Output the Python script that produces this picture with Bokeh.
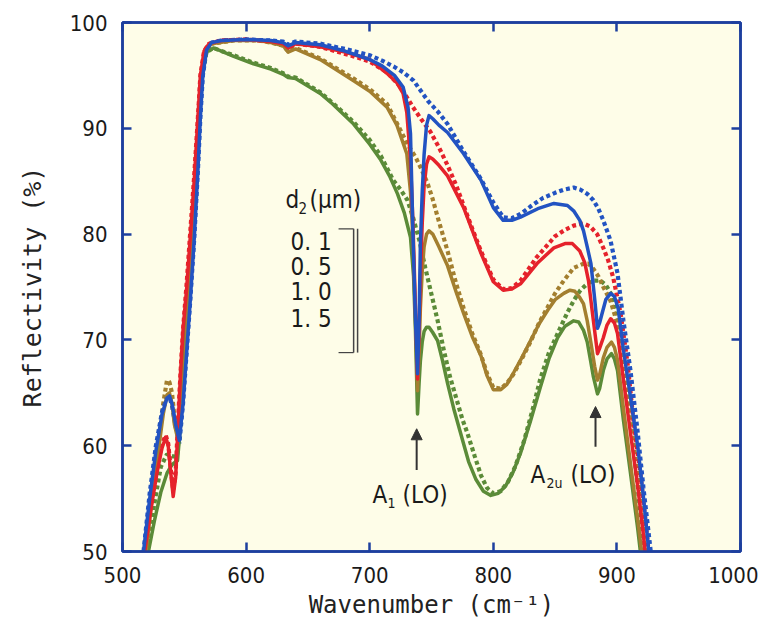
from bokeh.plotting import figure
from bokeh.models import Range1d, LinearAxis, FixedTicker, Label, Arrow, NormalHead
from bokeh.embed import file_html
from bokeh.resources import INLINE

# ---------------- data ----------------
x_ticks = [500, 600, 700, 800, 900, 1000]
y_ticks = [50, 60, 70, 80, 90, 100]

thickness_labels = ["0. 1", "0. 5", "1. 0", "1. 5"]

blue_x = [517, 522, 527, 532, 536, 538, 540, 543, 546, 549, 552, 555, 558, 561, 563, 565, 568, 572, 580, 600, 620, 630, 634, 640, 660, 680, 700, 710, 720, 727, 731, 733, 735, 737, 738.7, 740, 741, 742.5, 744, 746, 748, 751, 756, 763, 776, 790, 800, 808, 815, 822, 836, 849, 860, 865, 870, 873, 876, 879, 882, 884.3, 886, 888, 891, 895, 898, 901, 905, 911, 917, 921.5, 925, 928]
blue_y = [50, 55, 59.5, 63, 64.5, 64.7, 64, 62, 60.5, 64, 69, 74, 79.5, 86, 91, 95, 97.4, 98.1, 98.3, 98.4, 98.3, 98.1, 97.8, 98.1, 97.9, 97.3, 96.5, 95.9, 95, 93.9, 92, 89.5, 80, 72, 66.8, 72, 79, 84, 87.5, 90.3, 91.2, 90.9, 90.3, 89.6, 87.6, 85.1, 82.5, 81.3, 81.3, 81.6, 82.4, 82.9, 82.7, 82.2, 81.3, 80.3, 78.8, 77.2, 73.9, 71.1, 71.6, 72.5, 73.8, 74.4, 74.1, 73, 69.3, 64.6, 59.8, 55.1, 51, 47]

red_x = [518, 523, 528, 532, 535, 537, 539, 541, 543, 545, 547, 549, 552, 555, 558, 561, 563, 566, 570, 580, 600, 620, 630, 634, 640, 660, 680, 700, 714, 722, 727, 730, 733, 735, 737, 738.7, 740, 741, 742.5, 744, 746, 748, 751, 756, 763, 776, 790, 800, 808, 815, 822, 836, 849, 858, 864, 870, 874, 877, 881, 884.3, 886, 889, 892, 895, 898, 900.5, 905, 911, 917, 921.5, 925]
red_y = [50, 54, 57.5, 59.8, 60.8, 60, 57.5, 55.2, 57, 62, 67, 71, 75, 80, 85, 91, 95, 97.3, 98, 98.3, 98.4, 98.2, 98, 97.6, 98, 97.7, 97.2, 96.5, 95.2, 94.3, 93.3, 91.5, 87, 81, 73, 66.3, 71, 76, 81, 84.5, 86.6, 87.3, 87.1, 86.5, 85.5, 82.5, 78.2, 75.5, 74.7, 74.8, 75.3, 77.3, 78.7, 79.1, 79.1, 78.4, 77.3, 75.6, 71.8, 68.7, 69.2, 70.2, 71.4, 72.0, 71.6, 70.6, 66.5, 61.2, 56, 51.5, 47]

brown_x = [519, 524, 529, 533, 536, 538, 540, 542, 545, 548, 551, 554, 557, 560, 562, 564, 567, 572, 590, 610, 620, 630, 634, 640, 660, 687, 700, 714, 722, 730, 733, 735, 737, 738.7, 740, 741, 742.5, 744, 746, 748, 751, 756, 763, 770, 776, 783, 790, 795, 800, 806, 811, 816, 823, 830, 837, 844, 850, 857, 862, 866, 870, 873, 876, 879, 882, 884.3, 886, 889, 892, 895.6, 898, 900.5, 905, 911, 916.7, 920, 923]
brown_y = [50, 55, 59.5, 63, 64.8, 65, 64, 62, 60.5, 64, 69, 75, 81, 87, 91, 95, 97.3, 98, 98.3, 98.3, 98.1, 97.8, 97.2, 97.5, 96.5, 94.5, 93.5, 92, 90.3, 87.6, 84, 79.5, 72, 65.2, 69, 73, 76.5, 78.8, 80, 80.3, 80, 78.8, 77, 74.5, 72.5, 70.3, 68.5, 66.6, 65.3, 65.3, 65.8, 66.8, 68.3, 69.9, 71.5, 72.8, 73.8, 74.4, 74.7, 74.6, 74, 73.4, 71.8, 69.7, 67.5, 66.2, 66.7, 68.3, 69.3, 69.8, 69.3, 68.1, 63.8, 58.3, 53.2, 50, 47]

green_x = [521, 526, 531, 536, 540, 544.5, 547, 549.5, 553, 556, 559, 562, 565, 568, 573.6, 580, 590, 606, 620, 630, 634, 640, 650, 660, 670, 687, 700, 709, 716, 722.5, 728, 733, 735.5, 737, 738.7, 740, 741, 742.5, 744, 746, 748, 751, 755, 759, 763, 768, 773.5, 780, 786, 792, 798, 804, 810, 816, 822, 830, 838, 845, 852, 858, 865, 869, 873, 876, 878.6, 881, 884.3, 886, 889, 892, 895.6, 898, 900.5, 905.3, 911, 916.7, 919, 922]
green_y = [50, 53, 55.6, 57.4, 58.2, 58.6, 62, 68, 75, 80.5, 86, 91.5, 95.5, 97.2, 97.6, 97.3, 96.8, 96.1, 95.6, 95.1, 94.8, 94.7, 94, 93.3, 92.3, 90.4, 88.5, 87, 85.5, 83.8, 82, 79.7, 76, 71, 63, 66, 68, 69.8, 70.8, 71.2, 71.2, 70.7, 69.9, 68, 65.9, 63.5, 61.2, 58.5, 56.8, 55.7, 55.3, 55.5, 56.2, 57.5, 59.3, 62.3, 65.5, 68.2, 70.2, 71.3, 71.8, 71.7, 70.9, 69.8, 68.1, 66.5, 64.9, 65.4, 67.1, 68.2, 68.7, 68.2, 67.1, 62.4, 57.4, 52.3, 50, 47]

blue_dot_x = [517, 522, 527, 532, 536, 538, 540, 543, 546, 549, 552, 555, 558, 561, 563, 565, 568, 572, 580, 600, 620, 630, 634, 640, 660, 680, 700, 710, 720, 727, 735.5, 741, 747, 755, 763, 770, 776, 783, 790, 800, 808, 815, 822, 830, 840, 850, 857, 865, 870.5, 876, 881, 885, 889, 894.8, 900.5, 905.3, 911, 916.7, 921.5, 927, 930]
blue_dot_y = [50, 55.5, 60, 63.2, 64.6, 64.6, 63.8, 61.8, 60.2, 64, 69, 74, 79.5, 86, 91, 95, 97.4, 98.1, 98.3, 98.4, 98.3, 98.2, 97.9, 98.2, 98, 97.5, 96.9, 96.4, 95.8, 95.3, 94.5, 93.6, 92.6, 91.6, 90.4, 89, 87.8, 86.5, 85.2, 83, 81.6, 81.5, 81.9, 82.6, 83.4, 83.9, 84.2, 84.4, 84.2, 83.8, 83.2, 82.4, 81.3, 79.4, 76.3, 71.8, 67.1, 61.4, 56, 50.4, 47]

red_dot_x = [518, 523, 528, 532, 535, 537, 539, 541, 543, 545, 547, 549, 552, 555, 558, 561, 563, 566, 570, 580, 600, 620, 630, 634, 640, 660, 687, 700, 714, 725, 735, 742, 749, 756, 763, 770, 776, 783, 790, 800, 808, 815, 822, 835, 850, 858, 865, 873, 878.6, 884, 889, 893, 897, 903, 908.6, 913.4, 919, 924.8, 928]
red_dot_y = [50, 54.3, 58, 60.2, 61, 60.2, 57.8, 55.8, 57.5, 62.5, 67, 71, 75.5, 80.5, 85.5, 91, 95, 97.3, 98, 98.3, 98.4, 98.2, 98, 97.6, 98, 97.7, 96.8, 96.3, 95.3, 93.9, 92, 90.8, 89.7, 88.2, 86.5, 84.6, 82.7, 80.5, 78.4, 75.7, 74.8, 74.9, 75.6, 77.8, 79.8, 80.4, 80.8, 81, 80.7, 80, 78.7, 77.5, 75.9, 72.5, 67.8, 62.4, 57.4, 51, 47]

brown_dot_x = [519, 524, 529, 533, 536, 538, 540, 542, 545, 548, 551, 554, 557, 560, 562, 564, 567, 572, 590, 610, 620, 630, 634, 640, 660, 687, 700, 714, 725, 731, 737, 742, 746.8, 751, 755, 763, 770, 776, 783, 790, 795, 800, 806, 811, 816, 823, 830, 837, 844, 850, 857, 865, 873, 877, 881, 885, 889, 894.8, 900.5, 905.3, 911, 916.7, 921.5, 925]
brown_dot_y = [50, 55.5, 60.5, 64, 66.2, 66, 65, 62.8, 61, 64.5, 69.5, 75.5, 81.5, 87.5, 91.5, 95.2, 97.3, 98, 98.3, 98.3, 98.1, 97.8, 97.3, 97.6, 96.6, 94.7, 93.7, 92.3, 89.8, 88.4, 87.3, 86.1, 84.8, 83.3, 81.6, 78.4, 75.3, 73, 70.6, 68.6, 66.8, 65.5, 65.4, 65.9, 66.7, 68.2, 69.8, 71.6, 73.1, 74.4, 75.6, 76.8, 77.2, 77.2, 76.7, 76, 75, 73.7, 71.5, 67.4, 62.4, 57.4, 51.7, 48]

green_dot_x = [520, 525, 531, 536, 540, 544, 547, 549.5, 553, 556, 559, 562, 565, 568, 573.6, 580, 590, 606, 620, 630, 634, 640, 650, 660, 670, 687, 700, 709, 719, 725, 730.6, 735, 740, 745, 750, 755, 760, 765, 770, 775, 779, 785, 790, 795, 800, 806, 812, 818, 825, 832, 838, 845, 854.4, 860, 865, 870.5, 876, 881, 886.7, 891, 897, 901, 905, 911, 916, 921, 924]
green_dot_y = [50, 54, 58, 59.2, 59, 59, 62.5, 68, 75, 80.5, 86, 91.5, 95.5, 97.2, 97.6, 97.3, 96.9, 96.2, 95.7, 95.2, 94.9, 94.8, 94.1, 93.4, 92.4, 90.6, 88.9, 87.4, 85.1, 84.2, 83.2, 81.6, 79.5, 76.8, 74.3, 71.8, 69, 66.5, 64.5, 62.5, 61.2, 59, 57.2, 56, 55.5, 55.7, 56.6, 58.1, 60.5, 63.5, 66.3, 68.8, 71.2, 72.6, 73.7, 74.7, 75.3, 75.6, 75.6, 75.2, 74, 72, 69, 62.5, 57, 51.5, 48]

# ---------------- styling ----------------
FRAME = "#1d3f9e"
BLUE = "#2253c2"
RED = "#e5222b"
BROWN = "#a37f2f"
GREEN = "#5b8b38"
TXT = "#1a1a1a"
NUM_FONT = "DejaVu Sans Condensed"
MONO = "DejaVu Sans Mono"

p = figure(width=758, height=628, x_range=Range1d(500, 1000), y_range=Range1d(50, 100),
           output_backend="svg", toolbar_location=None,
           min_border_left=122, min_border_right=18, min_border_top=22, min_border_bottom=77)
p.grid.visible = False
p.background_fill_color = "#fefde8"
p.border_fill_color = "white"
p.outline_line_color = FRAME
p.outline_line_width = 2.5


def style_axis(ax, show_labels):
    ax.axis_line_color = FRAME
    ax.axis_line_width = 2.5
    ax.major_tick_line_color = FRAME
    ax.major_tick_line_width = 2.5
    ax.major_tick_in = 9
    ax.major_tick_out = 0
    ax.minor_tick_line_color = None
    if show_labels:
        ax.major_label_text_font = NUM_FONT
        ax.major_label_text_font_size = "22px"
        ax.major_label_text_color = TXT
        ax.major_label_standoff = 15
        ax.axis_label_text_font = MONO
        ax.axis_label_text_font_style = "normal"
        ax.axis_label_text_color = "#222"
    else:
        ax.major_label_text_font_size = "1px"
        ax.major_label_text_color = None
        ax.major_label_standoff = 0


p.xaxis.ticker = FixedTicker(ticks=x_ticks)
p.yaxis.ticker = FixedTicker(ticks=y_ticks)
style_axis(p.xaxis[0], True)
style_axis(p.yaxis[0], True)
p.xaxis.axis_label = "Wavenumber (cm\u207b\u00b9)"
p.yaxis.axis_label = "Reflectivity (%)"
p.xaxis.axis_label_text_font_size = "24px"
p.yaxis.axis_label_text_font_size = "25px"
p.xaxis.axis_label_standoff = 5
p.yaxis.axis_label_standoff = 20

top_ax = LinearAxis(ticker=FixedTicker(ticks=x_ticks))
right_ax = LinearAxis(ticker=FixedTicker(ticks=y_ticks))
style_axis(top_ax, False)
style_axis(right_ax, False)
p.add_layout(top_ax, "above")
p.add_layout(right_ax, "right")

# dotted curves underneath
dash = "4 3"
for xs, ys, c in [(green_dot_x, green_dot_y, GREEN), (brown_dot_x, brown_dot_y, BROWN),
                  (red_dot_x, red_dot_y, RED), (blue_dot_x, blue_dot_y, BLUE)]:
    p.line(xs, ys, line_color=c, line_width=4.2, line_dash=dash)

# solid curves
for xs, ys, c in [(green_x, green_y, GREEN), (brown_x, brown_y, BROWN),
                  (red_x, red_y, RED), (blue_x, blue_y, BLUE)]:
    p.line(xs, ys, line_color=c, line_width=3.5, line_join="round")

# legend block
LEG = "24px"
p.add_layout(Label(x=631.9, y=83.2, text="d", text_font=NUM_FONT, text_font_size=LEG,
                   text_baseline="middle", text_color=TXT))
p.add_layout(Label(x=631.9, y=83.2, x_offset=13, y_offset=-8, text="2", text_font=NUM_FONT,
                   text_font_size="15px", text_baseline="middle", text_color=TXT))
p.add_layout(Label(x=631.9, y=83.2, x_offset=24, text="(\u03bcm)", text_font=NUM_FONT,
                   text_font_size=LEG, text_baseline="middle", text_color=TXT))
for lab, yy in zip(thickness_labels, [79.3, 76.9, 74.5, 72.0]):
    p.add_layout(Label(x=636, y=yy, text=lab, text_font=NUM_FONT, text_font_size=LEG,
                       text_baseline="middle", text_color=TXT))
# bracket
BR = "#444444"
p.line([674.8, 687], [80.5, 80.5], line_color=BR, line_width=1.2)
p.line([674.8, 687], [68.8, 68.8], line_color=BR, line_width=1.2)
p.line([687, 687], [80.5, 68.8], line_color=BR, line_width=1.5)
p.line([690.2, 690.2], [80.5, 68.8], line_color=BR, line_width=1.5)

# mode arrows and labels
for ax_, y0, y1 in [(738, 57.7, 61.6), (882.7, 59.9, 63.7)]:
    p.add_layout(Arrow(x_start=ax_, y_start=y0, x_end=ax_, y_end=y1, line_color="#333", line_width=2,
                       end=NormalHead(size=11, fill_color="#333", line_color="#333")))

p.add_layout(Label(x=702.3, y=55.3, text="A", text_font=NUM_FONT, text_font_size=LEG,
                   text_baseline="middle", text_color=TXT))
p.add_layout(Label(x=702.3, y=55.3, x_offset=15, y_offset=-8, text="1", text_font=NUM_FONT,
                   text_font_size="14px", text_baseline="middle", text_color=TXT))
p.add_layout(Label(x=702.3, y=55.3, x_offset=30, text="(LO)", text_font=NUM_FONT,
                   text_font_size=LEG, text_baseline="middle", text_color=TXT))

p.add_layout(Label(x=830.1, y=57.2, text="A", text_font=NUM_FONT, text_font_size=LEG,
                   text_baseline="middle", text_color=TXT))
p.add_layout(Label(x=830.1, y=57.2, x_offset=16, y_offset=-8, text="2u", text_font=NUM_FONT,
                   text_font_size="14px", text_baseline="middle", text_color=TXT))
p.add_layout(Label(x=830.1, y=57.2, x_offset=40, text="(LO)", text_font=NUM_FONT,
                   text_font_size=LEG, text_baseline="middle", text_color=TXT))

open("out.html", "w").write(file_html(p, INLINE))
